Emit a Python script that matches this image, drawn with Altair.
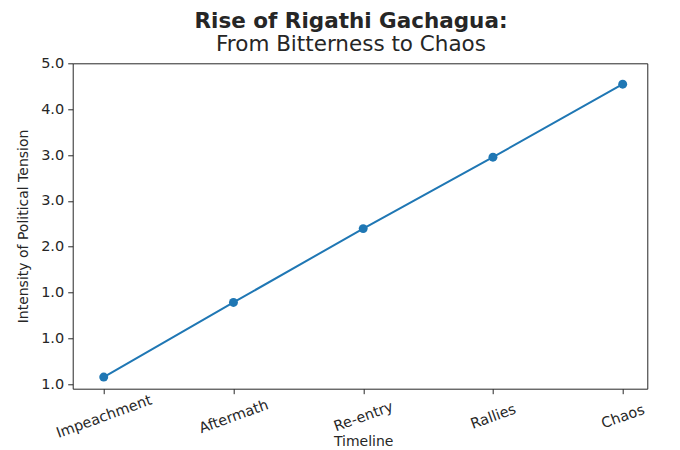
import altair as alt
import pandas as pd

# Data
stages = ["Impeachment", "Aftermath", "Re-entry", "Rallies", "Chaos"]
intensity = [1.09, 2.02, 2.94, 3.83, 4.74]

y_tick_values = [1.0, 1.5714, 2.1429, 2.7143, 3.2857, 3.8571, 4.4286, 5.0]
y_tick_labels = ["1.0", "1.0", "1.0", "2.0", "3.0", "3.0", "4.0", "5.0"]

df = pd.DataFrame({"Stage": stages, "Intensity": intensity})

label_expr = (
    "[" + ",".join("'" + s + "'" for s in y_tick_labels) + "]"
    "[round((datum.value - 1) * 7 / 4)]"
)

INK = "#262626"
BLUE = "#1f77b4"
FONT = "DejaVu Sans"

x_enc = alt.X(
    "Stage:N",
    sort=stages,
    scale=alt.Scale(type="point", range=[31, 550], padding=0),
    axis=alt.Axis(
        title="Timeline",
        titleFontSize=14,
        titleFontWeight="normal",
        titleColor=INK,
        titleFont=FONT,
        titleY=57,
        titleBaseline="alphabetic",
        labelAngle=340,
        labelAlign="center",
        labelBaseline="middle",
        labelPadding=23,
        labelFontSize=14.5,
        labelColor=INK,
        labelFont=FONT,
        tickSize=5,
        tickColor=INK,
        domain=False,
        grid=False,
    ),
)

y_enc = alt.Y(
    "Intensity:Q",
    scale=alt.Scale(domain=[0.945, 5.0], nice=False, zero=False),
    axis=alt.Axis(
        title="Intensity of Political Tension",
        values=y_tick_values,
        labelExpr=label_expr,
        titleFontSize=14,
        titleFontWeight="normal",
        titleColor=INK,
        titleFont=FONT,
        titleX=-49,
        titleBaseline="middle",
        labelFontSize=14.5,
        labelColor=INK,
        labelFont=FONT,
        labelPadding=4,
        tickSize=5,
        tickColor=INK,
        domain=False,
        grid=False,
    ),
)

line = alt.Chart(df).mark_line(color=BLUE, strokeWidth=2).encode(x=x_enc, y=y_enc)
points = alt.Chart(df).mark_circle(color=BLUE, size=80, opacity=1).encode(x=x_enc, y=y_enc)

chart = (
    alt.layer(line, points)
    .properties(
        width=574.6,
        height=325.4,
        autosize=alt.AutoSizeParams(type="none"),
        padding={"left": 64.7, "top": 55.3, "right": 20, "bottom": 60},
        title=alt.TitleParams(
            text="Rise of Rigathi Gachagua:",
            subtitle="From Bitterness to Chaos",
            anchor="middle",
            dx=-9,
            font=FONT,
            fontSize=21.5,
            fontWeight="bold",
            color=INK,
            subtitleFont=FONT,
            subtitleFontSize=21.5,
            subtitleColor=INK,
            subtitlePadding=1.5,
            offset=0,
        ),
    )
    .configure_view(stroke=INK, strokeWidth=1)
)

chart.save("out.html", embed_options={"renderer": "svg", "actions": False})
